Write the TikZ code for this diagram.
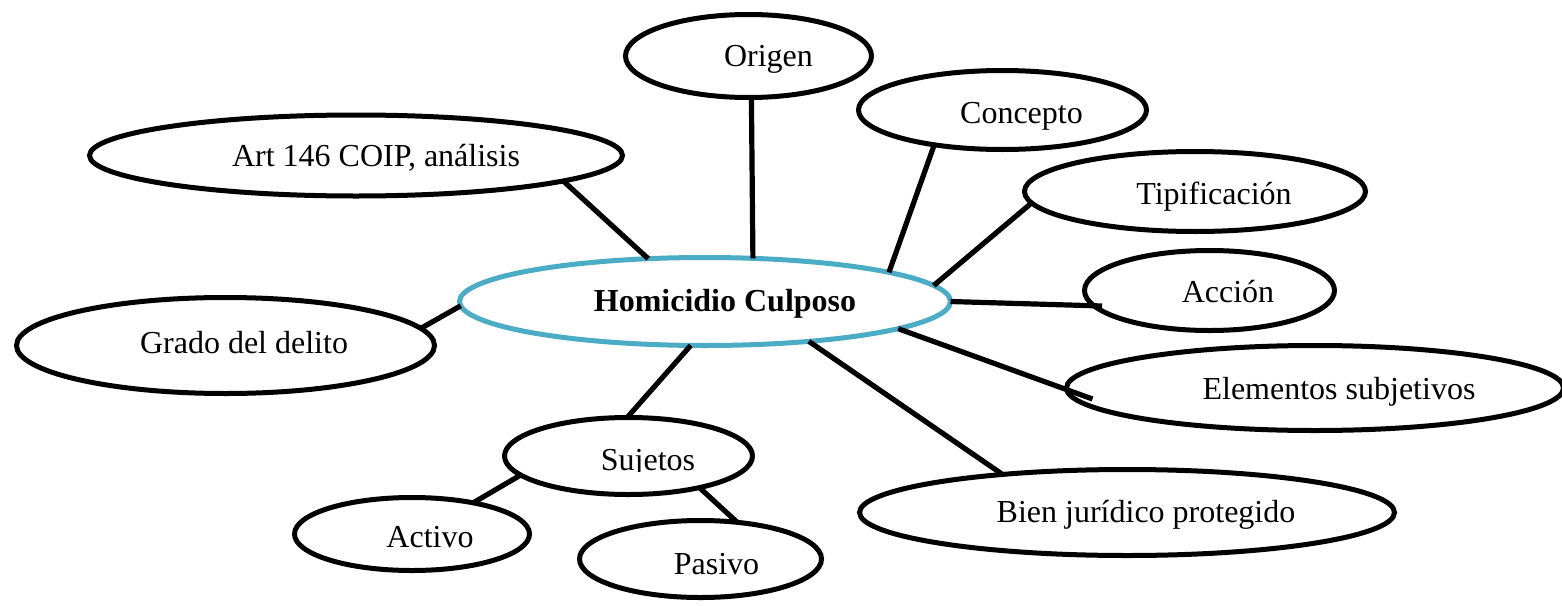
\documentclass[tikz,border=0pt]{standalone}
\usepackage{fontspec}
\setmainfont{Liberation Serif}
\usetikzlibrary{shapes.geometric}
\definecolor{hcblue}{RGB}{75,172,198}
\tikzset{
  bubble/.style={ellipse, draw=black, line width=2.5pt, fill=white, inner sep=0pt, outer sep=0pt},
  hub/.style={bubble, draw=hcblue},
  lbl/.style={anchor=base, inner sep=0pt, font=\fontsize{16}{19}\selectfont},
  hublbl/.style={lbl, font=\fontsize{16}{19}\selectfont\bfseries},
  link/.style={line width=2.6pt, draw=black},
}
\begin{document}
\begin{tikzpicture}[x=0.5pt,y=-0.5pt]
\useasboundingbox (0,0) rectangle (1562,605);
% ellipses
\node[hub, minimum width=245.5pt, minimum height=44pt] (hc) at (705,301.5) {};
\node[bubble, minimum width=123pt, minimum height=41.5pt] (origen) at (748.5,56) {};
\node[bubble, minimum width=144pt, minimum height=39.5pt] (concepto) at (1002.5,110) {};
\node[bubble, minimum width=266.5pt, minimum height=40.5pt] (art) at (356,155.5) {};
\node[bubble, minimum width=170.5pt, minimum height=40pt] (tip) at (1195,191.5) {};
\node[bubble, minimum width=125pt, minimum height=40pt] (accion) at (1209.5,290.5) {};
\node[bubble, minimum width=209pt, minimum height=48pt] (grado) at (225.5,345.5) {};
\node[bubble, minimum width=248.5pt, minimum height=42.5pt] (elem) at (1315,388) {};
\node[bubble, minimum width=124pt, minimum height=38.5pt] (suj) at (628.5,456) {};
\node[bubble, minimum width=117.5pt, minimum height=36.5pt] (activo) at (412,534) {};
\node[bubble, minimum width=121pt, minimum height=38.5pt] (pasivo) at (700.5,559) {};
\node[bubble, minimum width=267.5pt, minimum height=43pt] (bien) at (1127,512.5) {};
% connectors
\draw[link] (hc.143.6) -- (art.353.1);
\draw[link] (hc.42.6) -- (origen.274.8);
\draw[link] (hc.9.5) -- (concepto.207.3);
\draw[link] (hc.4.2) -- (tip.184);
\draw[link] (hc.0) -- ([xshift=8.75pt,yshift=-7.75pt]accion.west);
\draw[link] (hc.352.9) -- ([xshift=13pt,yshift=-5.5pt]elem.west);
\draw[link] (hc.339.9) -- (bien.163.9);
\draw[link] (hc.181.5) -- (grado.5.55);
\draw[link] (hc.252.3) -- (suj.92);
\draw[link] (suj.190) -- (activo.27.6);
\draw[link] (suj.336.2) -- (pasivo.45.2);
% labels
\node[hublbl] (hc-t) at (725,311.7) {Homicidio Culposo};
\node[lbl] (origen-t) at (768.5,66) {Origen};
\node[lbl] (concepto-t) at (1021.5,123) {Concepto};
\node[lbl] (art-t) at (376,166.7) {Art 146 COIP, análisis};
\node[lbl] (tip-t) at (1214,204) {Tipificación};
\node[lbl] (accion-t) at (1228,302) {Acción};
\node[lbl] (grado-t) at (244,353) {Grado del delito};
\node[lbl] (elem-t) at (1339,399) {Elementos subjetivos};
\begin{scope}
  \clip (560,430) rectangle (740,471);
  \node[lbl] (suj-t) at (648,470.5) {Sujetos};
\end{scope}
\node[lbl] (activo-t) at (430,547) {Activo};
\node[lbl] (pasivo-t) at (716.5,574) {Pasivo};
\node[lbl] (bien-t) at (1146,522) {Bien jurídico protegido};
\end{tikzpicture}
\end{document}
